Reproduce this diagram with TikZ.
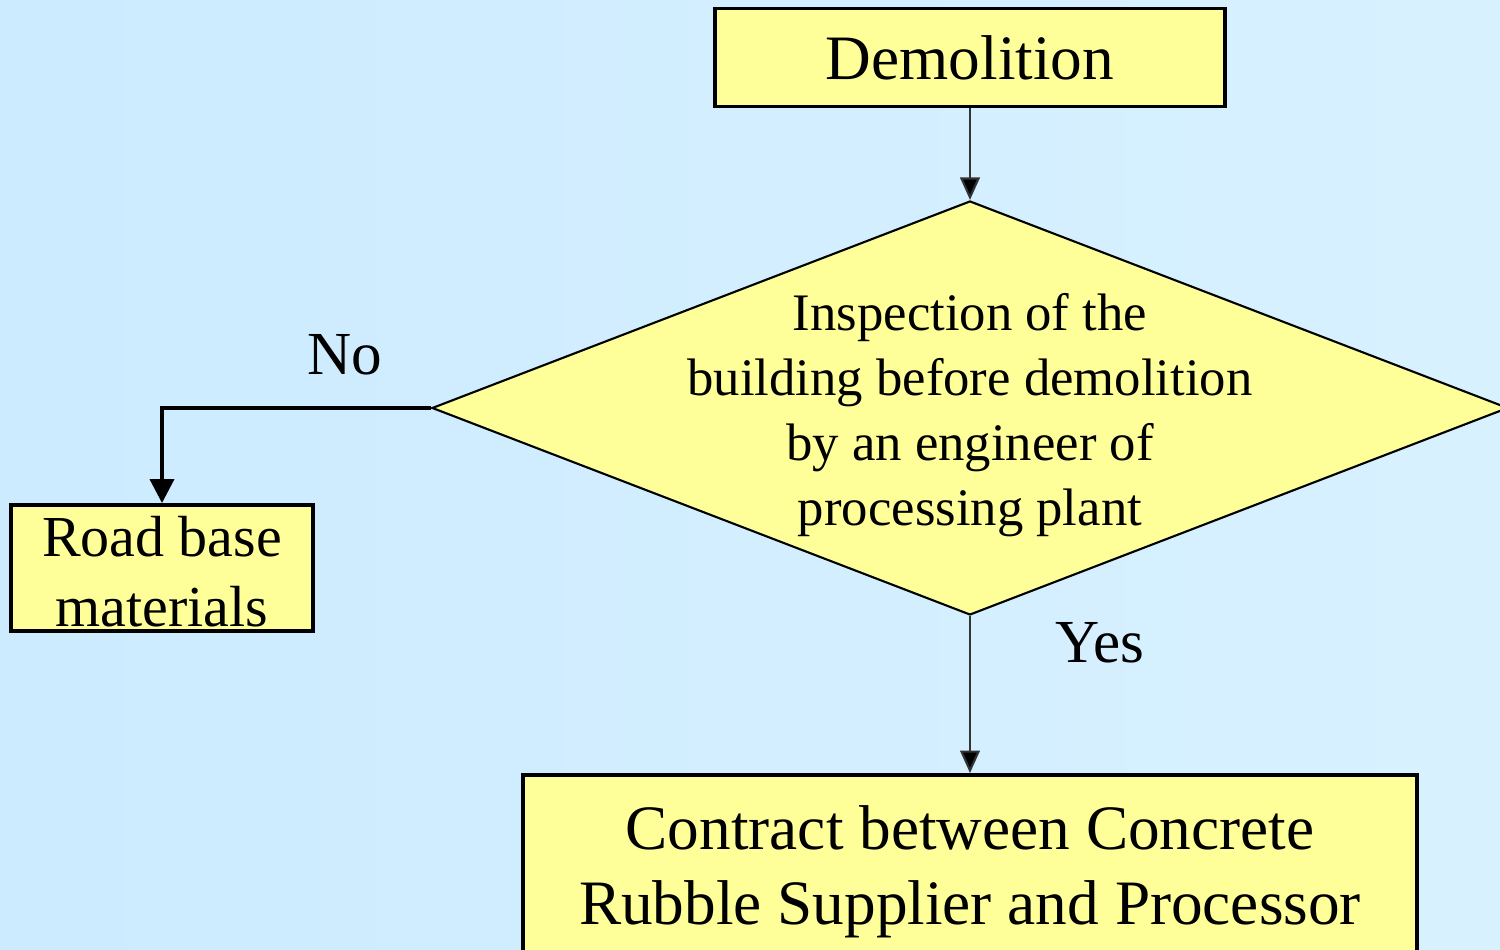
\documentclass[tikz,border=0pt]{standalone}
\usepackage{fontspec}
\setmainfont{Liberation Serif}
\usetikzlibrary{shapes.geometric,arrows.meta}

\definecolor{bgleft}{RGB}{204,235,255}
\definecolor{bgright}{RGB}{216,241,255}
\definecolor{boxyellow}{RGB}{255,255,153}

\tikzset{
  stepbox/.style={draw,line width=1.1pt,fill=boxyellow,align=center,inner sep=0pt},
  decision/.style={diamond,draw,line width=0.6pt,fill=boxyellow,inner sep=0pt,
    minimum width=10.76cm,minimum height=4.14cm},
  thin arrow/.style={draw=black!80,line width=0.6pt,-{Triangle[width=5.6pt,length=6.4pt,fill=black]}},
  thick arrow/.style={draw,line width=1.1pt,-{Triangle[width=6.8pt,length=6.8pt]}}
}

\begin{document}
\begin{tikzpicture}
\clip (0,0) rectangle (15,9.5);
\fill[left color=bgleft,right color=bgright] (0,0) rectangle (15,9.5);

\node[stepbox,minimum width=5.1cm,minimum height=0.98cm,font=\fontsize{18}{21}\selectfont]
  (demol) at (9.70,8.925) {Demolition};
\node[decision] (insp) at (9.70,5.42) {};
\node[align=center,font=\fontsize{15}{18.5}\selectfont] (insptext) at (9.70,5.35)
  {Inspection of the\\ building before demolition\\ by an engineer of\\ processing plant};
\node[stepbox,minimum width=3.02cm,minimum height=1.26cm,align=center] (road) at (1.62,3.82) {};
\node[align=center,font=\fontsize{16.5}{20}\selectfont] (roadtext) at (1.62,3.78)
  {Road base\\ materials};
\node[stepbox,minimum width=8.94cm,minimum height=1.93cm,font=\fontsize{18}{21.3}\selectfont]
  (contract) at (9.70,0.785) {Contract between Concrete\\ Rubble Supplier and Processor};

\node[font=\fontsize{17.4}{20}\selectfont] (no) at (3.45,5.95) {No};
\node[font=\fontsize{17.4}{20}\selectfont] (yes) at (11.0,3.07) {Yes};

\path[thin arrow] (demol.south) -- (insp.north);
\path[thin arrow] (insp.south) -- (contract.north);
\path[thick arrow] (insp.west) -| (road.north);
\end{tikzpicture}
\end{document}
